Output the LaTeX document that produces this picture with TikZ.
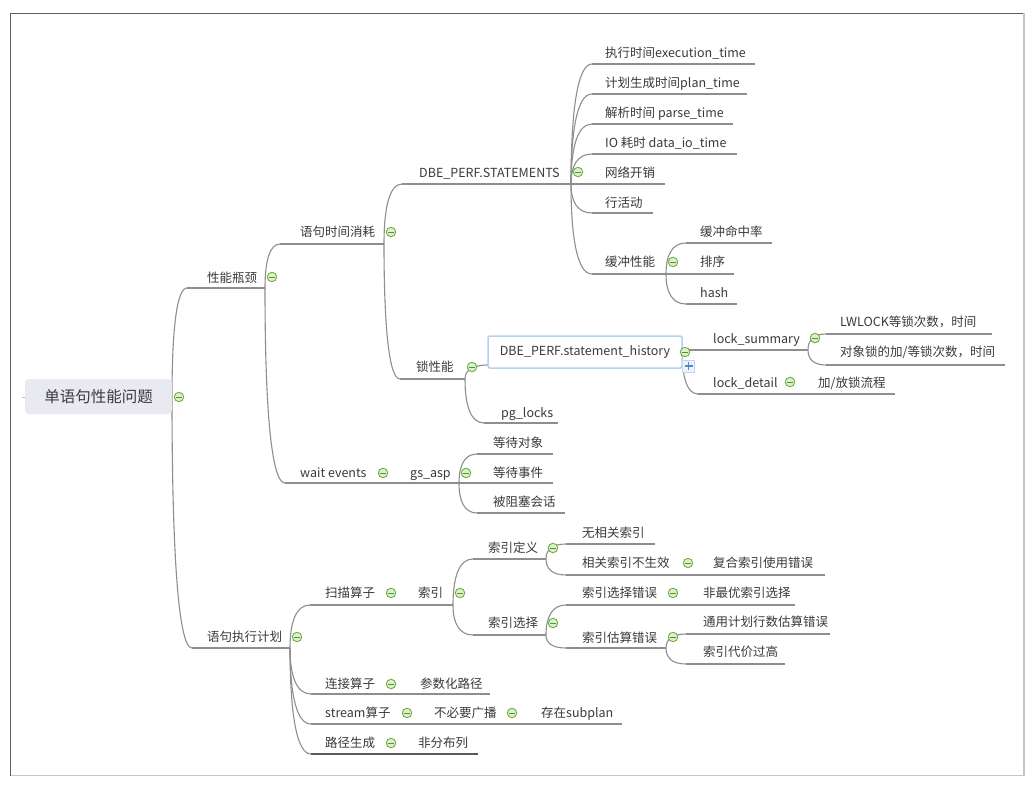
\documentclass[tikz,border=0pt]{standalone}
\usepackage{fontspec}
\setmainfont{Noto Sans CJK SC}
\usetikzlibrary{calc}
\definecolor{linegray}{HTML}{8E8E8E}
\definecolor{linedark}{HTML}{5A5A5A}
\definecolor{txtgray}{HTML}{3A3A3A}
\definecolor{foldgreen}{HTML}{72B043}
\definecolor{foldfill}{HTML}{DDF0CC}
\definecolor{foldminus}{HTML}{5C8F35}
\definecolor{rootfill}{HTML}{E9E9F2}
\definecolor{histblue}{HTML}{B5D0F2}
\definecolor{plusblue}{HTML}{4A88DA}
\definecolor{plusfill}{HTML}{EEF3F8}
\definecolor{plusedge}{HTML}{C8D4E0}
\definecolor{framedark}{HTML}{5E5E5E}
\definecolor{framelight}{HTML}{C4C4C4}
\newcommand\mmtopic[7]{%
  \coordinate (#1S) at (#6,#5);
  \coordinate (#1E) at (#7,#5);
  \draw[uline] (#1S) -- (#1E);
  \node[txt, anchor=base west] (#1) at (#3,#4+4.5) {#2};
}
\newcommand\mmconn[2]{%
  \draw[conn] (#1) .. controls ($(#1)!0.6!(#1|-#2)$) and ($(#1|-#2)!0.3!(#2)$) .. (#2);
}
\begin{document}
\begin{tikzpicture}[x=1pt,y=-1pt,
  uline/.style={draw=linegray, line width=1.1pt},
  conn/.style={draw=linegray, line width=1.1pt},
  txt/.style={text=txtgray, font=\fontsize{12.5}{14}\selectfont, inner sep=0pt},
  fold/.style={circle, minimum size=9.5pt, inner sep=0pt, draw=foldgreen, fill=foldfill, line width=0.9pt,
    path picture={\draw[foldminus, line width=0.9pt] ([xshift=-2.6pt]path picture bounding box.center) -- ([xshift=2.6pt]path picture bounding box.center);}},
  rootbox/.style={rectangle, rounded corners=4pt, fill=rootfill, minimum width=147pt, minimum height=35pt, inner sep=0pt, text=txtgray, font=\fontsize{15.5}{18}\selectfont},
  histbox/.style={rectangle, rounded corners=1.5pt, draw=histblue, fill=white, line width=1.5pt, minimum width=194pt, minimum height=32pt, inner sep=0pt, text=txtgray, font=\fontsize{12.5}{14}\selectfont},
  plusbox/.style={rectangle, minimum size=12pt, inner sep=0pt, draw=plusedge, fill=plusfill, line width=0.6pt,
    path picture={\draw[plusblue, line width=1.2pt] ([xshift=-4pt]path picture bounding box.center) -- ([xshift=4pt]path picture bounding box.center) ([yshift=-4pt]path picture bounding box.center) -- ([yshift=4pt]path picture bounding box.center);}},
  framedk/.style={draw=framedark, line width=1.3pt},
  framelt/.style={draw=framelight, line width=1.3pt}
]
\useasboundingbox (0,0) rectangle (1031,789);
\fill[white] (0,0) rectangle (1031,789);
% frame
\draw[framedk] (10.5,775.5) -- (10.5,13.5) -- (1024,13.5);
\draw[framelt] (1024,13.5) -- (1024,775.5) -- (10.5,775.5);

% root
\coordinate (rootE) at (172,397);
\coordinate (rootTick) at (22,397);
\coordinate (rootW) at (25,397);
\draw[draw=linegray!60, line width=0.8pt] (rootTick) -- (rootW);

% level 1
\mmtopic{pn}{性能瓶颈}{207}{278}{288}{187}{265}
\mmtopic{zx}{语句执行计划}{207}{637}{648}{192}{290}
% under pn
\mmtopic{sj}{语句时间消耗}{300}{232}{244}{280}{384}
\mmtopic{we}{wait events}{300}{473}{483}{285}{376}
\mmtopic{gs}{gs\_asp}{410}{473}{483}{378}{459}
\mmtopic{wa}{等待对象}{493}{443}{454}{477}{553}
\mmtopic{wb}{等待事件}{493}{473}{483}{461}{553}
\mmtopic{wc}{被阻塞会话}{493}{502}{513}{477}{565}
% under sj
\mmtopic{dbe}{DBE\_PERF.STATEMENTS}{419}{173}{184}{402}{571}
\mmtopic{sx}{锁性能}{416}{367}{379}{400}{465}
\mmtopic{da}{执行时间execution\_time}{605}{53}{64}{592}{755}
\mmtopic{db}{计划生成时间plan\_time}{605}{83}{94}{592}{747}
\mmtopic{dc}{解析时间 parse\_time}{605}{113}{124}{592}{733}
\mmtopic{dd}{IO 耗时 data\_io\_time}{605}{143}{154}{592}{737}
\mmtopic{de}{网络开销}{605}{173}{184}{573}{665}
\mmtopic{df}{行活动}{605}{203}{213}{592}{653}
\mmtopic{dg}{缓冲性能}{605}{262}{274}{592}{666}
\mmtopic{ga}{缓冲命中率}{700}{232}{243}{686}{772}
\mmtopic{gb}{排序}{700}{262}{274}{668}{734}
\mmtopic{gc}{hash}{700}{293}{304}{686}{737}
% lock
\mmtopic{ls}{lock\_summary}{713}{339}{350}{696}{808}
\mmtopic{la}{LWLOCK等锁次数，时间}{840}{322}{334}{826}{992}
\mmtopic{lb}{对象锁的加/等锁次数，时间}{840}{352}{365}{826}{1005}
\mmtopic{ld}{lock\_detail}{713}{383}{394}{698}{783}
\mmtopic{le}{加/放锁流程}{818}{383}{394}{785}{895}
\mmtopic{pg}{pg\_locks}{501}{413}{423}{484}{558}
% plan
\mmtopic{sm}{扫描算子}{325}{593}{605}{310}{384}
\mmtopic{sy}{索引}{418}{593}{605}{386}{453}
\mmtopic{ia}{索引定义}{488}{548}{559}{473}{546}
\mmtopic{ib}{索引选择}{488}{623}{635}{473}{546}
\mmtopic{iaa}{无相关索引}{582}{533}{544}{566}{655}
\mmtopic{iab}{相关索引不生效}{582}{563}{575}{566}{681}
\mmtopic{iac}{复合索引使用错误}{713}{563}{575}{683}{825}
\mmtopic{iba}{索引选择错误}{582}{593}{605}{566}{666}
\mmtopic{ibb}{非最优索引选择}{703}{593}{605}{668}{795}
\mmtopic{ibc}{索引估算错误}{582}{638}{648}{566}{666}
\mmtopic{ibd}{通用计划行数估算错误}{703}{622}{634}{686}{830}
\mmtopic{ibe}{索引代价过高}{703}{652}{664}{686}{785}
\mmtopic{lj}{连接算子}{325}{684}{694}{311}{384}
\mmtopic{lja}{参数化路径}{420}{684}{694}{386}{490}
\mmtopic{st}{stream算子}{325}{713}{724}{311}{400}
\mmtopic{sta}{不必要广播}{434}{713}{724}{402}{505}
\mmtopic{stb}{存在subplan}{541}{713}{724}{507}{622}
\mmtopic{lp}{路径生成}{325}{743}{754}{311}{384}
\mmtopic{lpa}{非分布列}{418}{743}{754}{386}{478}

% connectors
\mmconn{rootE}{pnS}
\mmconn{rootE}{zxS}
\mmconn{pnE}{sjS}
\mmconn{pnE}{weS}
\mmconn{weE}{gsS}
\mmconn{gsE}{waS}
\mmconn{gsE}{wbS}
\mmconn{gsE}{wcS}
\mmconn{sjE}{dbeS}
\mmconn{sjE}{sxS}
\mmconn{dbeE}{daS}
\mmconn{dbeE}{dbS}
\mmconn{dbeE}{dcS}
\mmconn{dbeE}{ddS}
\mmconn{dbeE}{deS}
\mmconn{dbeE}{dfS}
\mmconn{dbeE}{dgS}
\mmconn{dgE}{gaS}
\mmconn{dgE}{gbS}
\mmconn{dgE}{gcS}
\coordinate (histW) at (488,365);
\coordinate (histE) at (682,350);
\mmconn{sxE}{histW}
\mmconn{sxE}{pgS}
\mmconn{histE}{lsS}
\mmconn{histE}{ldS}
\mmconn{lsE}{laS}
\mmconn{lsE}{lbS}
\mmconn{ldE}{leS}
\mmconn{zxE}{smS}
\mmconn{zxE}{ljS}
\mmconn{zxE}{stS}
\mmconn{zxE}{lpS}
\mmconn{smE}{syS}
\mmconn{syE}{iaS}
\mmconn{syE}{ibS}
\mmconn{iaE}{iaaS}
\mmconn{iaE}{iabS}
\mmconn{iabE}{iacS}
\mmconn{ibE}{ibaS}
\mmconn{ibE}{ibcS}
\mmconn{ibaE}{ibbS}
\mmconn{ibcE}{ibdS}
\mmconn{ibcE}{ibeS}
\mmconn{ljE}{ljaS}
\mmconn{stE}{staS}
\mmconn{staE}{stbS}
\mmconn{lpE}{lpaS}
% darker last line
\draw[draw=linedark, line width=1.6pt] (lpS) -- (lpaE);

% boxes
\node[rootbox] (root) at (98.5,396.5) {单语句性能问题};
\node[histbox] (hist) at (585,352) {DBE\_PERF.statement\_history};

% fold markers
\node[fold] (fRoot) at (179,397) {};
\node[fold] (fpn) at (272,277) {};
\node[fold] (fsj) at (391,232) {};
\node[fold] (fwe) at (383,473) {};
\node[fold] (fgs) at (466,473) {};
\node[fold] (fdbe) at (578,172) {};
\node[fold] (fdg) at (673,262) {};
\node[fold] (fsx) at (472,367) {};
\node[fold] (fhist) at (685,352) {};
\node[plusbox] (plus) at (688.5,366) {};
\node[fold] (fls) at (815,338) {};
\node[fold] (fld) at (790,382) {};
\node[fold] (fzx) at (297,637) {};
\node[fold] (fsm) at (391,593) {};
\node[fold] (fsy) at (460,593) {};
\node[fold] (fia) at (553,548) {};
\node[fold] (fib) at (553,623) {};
\node[fold] (fiab) at (688,563) {};
\node[fold] (fiba) at (673,593) {};
\node[fold] (fibc) at (673,637) {};
\node[fold] (flj) at (391,684) {};
\node[fold] (fst) at (407,713) {};
\node[fold] (fsta) at (512,713) {};
\node[fold] (flp) at (391,743) {};
\end{tikzpicture}
\end{document}
